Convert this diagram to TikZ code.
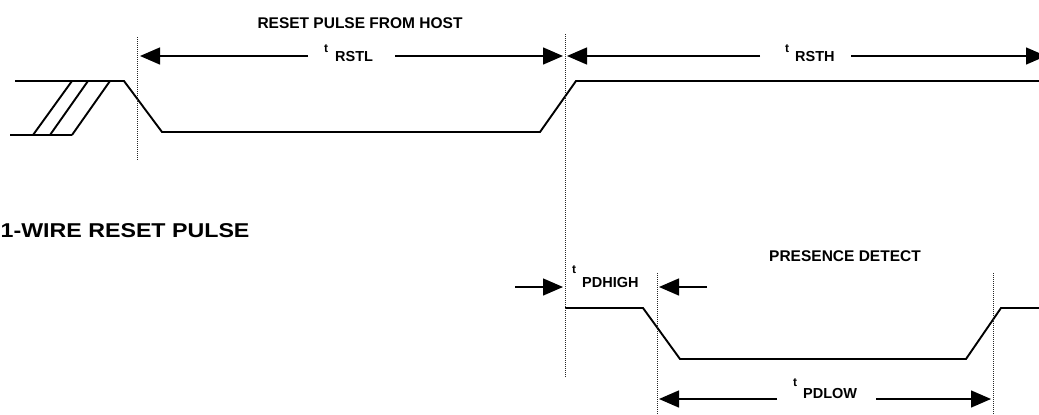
\documentclass[tikz,border=0pt]{standalone}
\usepackage{fontspec}
\setmainfont{Liberation Sans}
\usetikzlibrary{arrows.meta}
\begin{document}
\begin{tikzpicture}[x=1pt,y=-1pt,
  wave/.style={line width=1.9pt, line join=miter},
  guide/.style={line width=0.9pt, dash pattern=on 1pt off 1pt, black!85},
  dimline/.style={line width=1.4pt},
  dimarr/.style={dimline, -{Triangle[length=20pt,width=17pt]}},
  ttl/.style={font=\bfseries\fontsize{15.5}{16}\selectfont, inner sep=0pt},
  bigttl/.style={font=\bfseries\fontsize{20}{22}\selectfont, inner sep=0pt},
  lbl/.style={font=\bfseries\fontsize{14.5}{16}\selectfont, inner sep=0pt},
  tsup/.style={font=\bfseries\fontsize{12}{13}\selectfont, inner sep=0pt},
]
\useasboundingbox (0,0) rectangle (1039,415);

% ---------- titles ----------
\node[ttl, anchor=base] (host) at (360,28) {RESET PULSE FROM HOST};
\node[bigttl, anchor=base west] (wire) at (0.5,237) {\scalebox{1.16}[1]{1-WIRE RESET PULSE}};
\node[ttl, anchor=base] (pres) at (845,261) {PRESENCE DETECT};

% ---------- top waveform ----------
\draw[wave] (15,81) -- (124,81) -- (162,132) -- (540,132) -- (576,81) -- (1039,81);
\draw[wave] (10,135) -- (72,135);
\draw[wave] (33,135) -- (72,81);
\draw[wave] (50,135) -- (88,81);
\draw[wave] (72,135) -- (110,81);

% ---------- bottom waveform ----------
\draw[wave] (565,308) -- (643,308) -- (680,359) -- (966,359) -- (1001,308) -- (1039,308);

% ---------- guide lines ----------
\coordinate (g1t) at (137,37);  \coordinate (g1b) at (137,160);
\coordinate (g2t) at (565,34);  \coordinate (g2b) at (565,377);
\coordinate (g3t) at (657,273); \coordinate (g3b) at (657,415);
\coordinate (g4t) at (993,273); \coordinate (g4b) at (993,415);
\draw[guide] (g1t) -- (g1b);
\draw[guide] (g2t) -- (g2b);
\draw[guide] (g3t) -- (g3b);
\draw[guide] (g4t) -- (g4b);

% ---------- tRSTL ----------
\node[lbl, anchor=base west] (rstl) at (335,61) {RSTL};
\node[tsup, anchor=base west] (rstlt) at (324,52) {t};
\coordinate (rstlA) at (308,56); \coordinate (rstlAt) at (140,56);
\coordinate (rstlB) at (395,56); \coordinate (rstlBt) at (563,56);
\draw[dimarr] (rstlA) -- (rstlAt);
\draw[dimarr] (rstlB) -- (rstlBt);

% ---------- tRSTH ----------
\node[lbl, anchor=base west] (rsth) at (795,61) {RSTH};
\node[tsup, anchor=base west] (rstht) at (785,52) {t};
\coordinate (rsthA) at (760,56); \coordinate (rsthAt) at (567,56);
\coordinate (rsthB) at (851,56); \coordinate (rsthBt) at (1046,56);
\draw[dimarr] (rsthA) -- (rsthAt);
\draw[dimarr] (rsthB) -- (rsthBt);

% ---------- tPDHIGH ----------
\node[lbl, anchor=base west] (pdh) at (582,287) {PDHIGH};
\node[tsup, anchor=base west] (pdht) at (572,273) {t};
\coordinate (pdhA) at (515,287); \coordinate (pdhAt) at (563,287);
\coordinate (pdhB) at (707,287); \coordinate (pdhBt) at (659,287);
\draw[dimarr] (pdhA) -- (pdhAt);
\draw[dimarr] (pdhB) -- (pdhBt);

% ---------- tPDLOW ----------
\node[lbl, anchor=base west] (pdl) at (803,398) {PDLOW};
\node[tsup, anchor=base west] (pdlt) at (793,386) {t};
\coordinate (pdlA) at (777,399); \coordinate (pdlAt) at (659,399);
\coordinate (pdlB) at (876,399); \coordinate (pdlBt) at (991,399);
\draw[dimarr] (pdlA) -- (pdlAt);
\draw[dimarr] (pdlB) -- (pdlBt);
\end{tikzpicture}
\end{document}
